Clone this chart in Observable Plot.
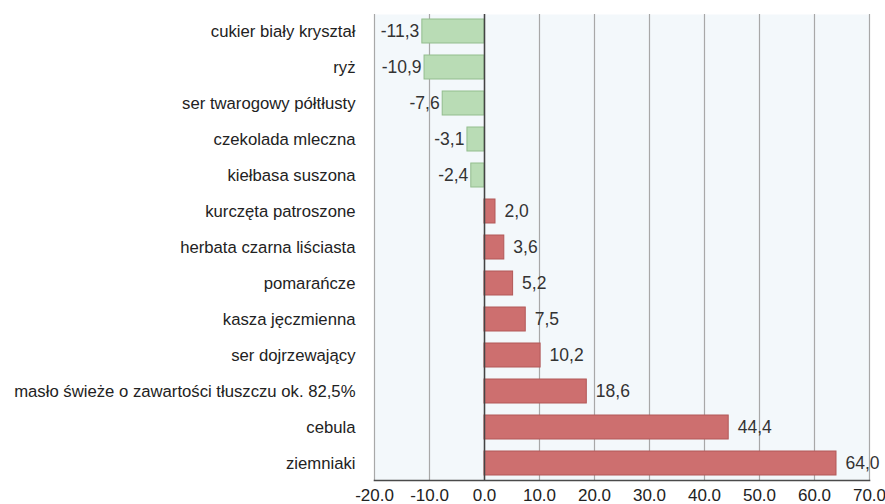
<!DOCTYPE html>
<html>
<head>
<meta charset="utf-8">
<script src="https://cdn.jsdelivr.net/npm/d3@7"></script>
<script src="https://cdn.jsdelivr.net/npm/@observablehq/plot@0.6"></script>
<style>
  html, body { margin: 0; padding: 0; background: #ffffff; }
  #chart svg { display: block; }
</style>
</head>
<body>
<div id="chart"></div>
<script>
const categories = [
  "cukier biały kryształ",
  "ryż",
  "ser twarogowy półtłusty",
  "czekolada mleczna",
  "kiełbasa suszona",
  "kurczęta patroszone",
  "herbata czarna liściasta",
  "pomarańcze",
  "kasza jęczmienna",
  "ser dojrzewający",
  "masło świeże o zawartości tłuszczu ok. 82,5%",
  "cebula",
  "ziemniaki"
];
const values = [-11.3, -10.9, -7.6, -3.1, -2.4, 2.0, 3.6, 5.2, 7.5, 10.2, 18.6, 44.4, 64.0];
const xTicks = [-20, -10, 0, 10, 20, 30, 40, 50, 60, 70];

const data = categories.map((c, i) => ({
  name: c,
  value: values[i],
  label: values[i].toFixed(1).replace(".", ",")
}));
const neg = data.filter(d => d.value < 0);
const pos = data.filter(d => d.value >= 0);

const font = "'Liberation Sans', Arial, sans-serif";

const chart = Plot.plot({
  width: 885,
  height: 504,
  marginLeft: 374,
  marginRight: 16,
  marginTop: 14,
  marginBottom: 24,
  style: { fontFamily: font, fontSize: "17px", color: "#222", background: "#ffffff" },
  x: { domain: [-20, 70], ticks: xTicks, tickFormat: d => d.toFixed(1), label: null },
  y: { domain: categories, paddingInner: 0.32, paddingOuter: 0.0875, label: null },
  marks: [
    Plot.frame({ fill: "#f3f8fb", stroke: null }),
    Plot.ruleX(xTicks, { stroke: "#a8a8a8", strokeWidth: 1.2 }),
    Plot.barX(data, {
      x: "value", y: "name",
      fill: d => d.value < 0 ? "#b9dcb5" : "#cd6f6f",
      stroke: d => d.value < 0 ? "#93bd8e" : "#b25858",
      strokeWidth: 1
    }),
    Plot.ruleX([0], { stroke: "#444", strokeWidth: 1.5 }),
    Plot.frame({ anchor: "bottom", stroke: "#4a4a4a", strokeWidth: 1.6 }),
    Plot.text(neg, { x: "value", y: "name", text: "label", textAnchor: "end", dx: -3, fill: "#333", fontSize: 17.5 }),
    Plot.text(pos, { x: "value", y: "name", text: "label", textAnchor: "start", dx: 9, fill: "#333", fontSize: 17.5 }),
    Plot.axisX({ ticks: xTicks, tickFormat: d => d.toFixed(1), tickSize: 0, tickPadding: 8, fontSize: 17, fill: "#222", label: null }),
    Plot.axisY({ tickSize: 0, tickPadding: 19, fontSize: 16.7, fill: "#222", label: null })
  ]
});
document.getElementById("chart").appendChild(chart);
</script>
</body>
</html>
